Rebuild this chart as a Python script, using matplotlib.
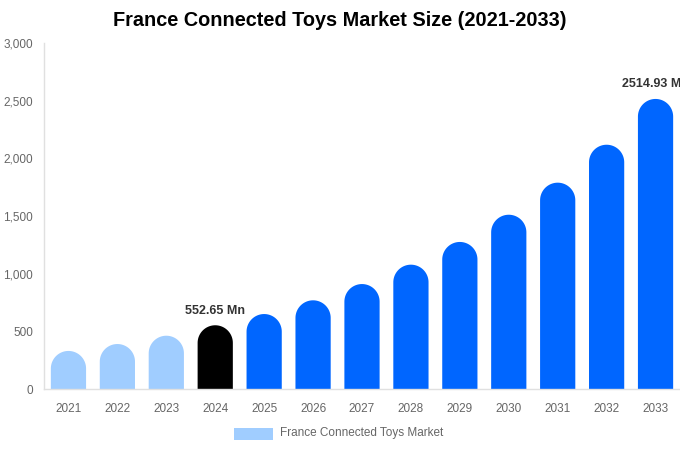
import numpy as np
import matplotlib
matplotlib.use('Agg')
import matplotlib.pyplot as plt
from matplotlib.patches import Rectangle

plt.rcParams['font.family'] = ['Liberation Sans', 'DejaVu Sans']

# data
years = ['2021', '2022', '2023', '2024', '2025', '2026', '2027',
         '2028', '2029', '2030', '2031', '2032', '2033']
values = [330, 390, 462, 552.65, 650, 769, 910, 1078, 1275, 1511, 1789, 2118, 2514.93]
colors = ['#a0cdff'] * 3 + ['#000000'] + ['#0066ff'] * 9
labels = {3: '552.65 Mn', 12: '2514.93 Mn'}
yticks = [0, 500, 1000, 1500, 2000, 2500, 3000]
legend_label = 'France Connected Toys Market'

fig = plt.figure(figsize=(6.8, 4.5), dpi=100)
ax = fig.add_axes([44 / 680, 1 - 389 / 450, 1 - 44 / 680, 346 / 450])
ax.set_xlim(-0.5, len(years) - 0.5)
ax.set_ylim(0, 3000)

bw = 0.72
# radius of the rounded cap (half the bar width in pixels) in y data units
ax_w = fig.get_figwidth() * fig.dpi * ax.get_position().width
ax_h = fig.get_figheight() * fig.dpi * ax.get_position().height
px_per_x = ax_w / len(years)
px_per_y = ax_h / 3000
r_y = (bw * px_per_x / 2) / px_per_y

theta = np.linspace(0, np.pi, 60)
for i, (v, c) in enumerate(zip(values, colors)):
    xs = np.concatenate([[i + bw / 2], i + bw / 2 * np.cos(theta), [i - bw / 2]])
    ys = np.concatenate([[0], v - r_y + r_y * np.sin(theta), [0]])
    ax.fill(xs, ys, color=c, linewidth=0)
    if i in labels:
        ax.text(i, v + 75, labels[i], ha='center', va='bottom', fontsize=9,
                fontweight='bold', color='#333333', clip_on=False)

ax.set_xticks(range(len(years)))
ax.set_xticklabels(years)
ax.set_yticks(yticks)
ax.set_yticklabels(['{:,}'.format(t) for t in yticks])
ax.tick_params(axis='both', length=0, labelsize=8.5, labelcolor='#666666')
ax.tick_params(axis='x', pad=10)
ax.tick_params(axis='y', pad=8)

for s in ['top', 'right']:
    ax.spines[s].set_visible(False)
for s in ['left', 'bottom']:
    ax.spines[s].set_color('#e0e0e0')
    ax.spines[s].set_linewidth(1)

fig.text(0.5, 1 - 21 / 450, 'France Connected Toys Market Size (2021-2033)',
         ha='center', va='center', fontsize=14.3, fontweight='bold', color='#000000')

# legend
fig.patches.append(Rectangle((234 / 680, 1 - 440 / 450), 39 / 680, 12 / 450,
                             facecolor='#a0cdff', edgecolor='none',
                             transform=fig.transFigure, figure=fig))
fig.text(280 / 680, 1 - 433 / 450, legend_label, ha='left', va='center',
         fontsize=8.5, color='#666666')

fig.savefig('out.png', dpi=100)
